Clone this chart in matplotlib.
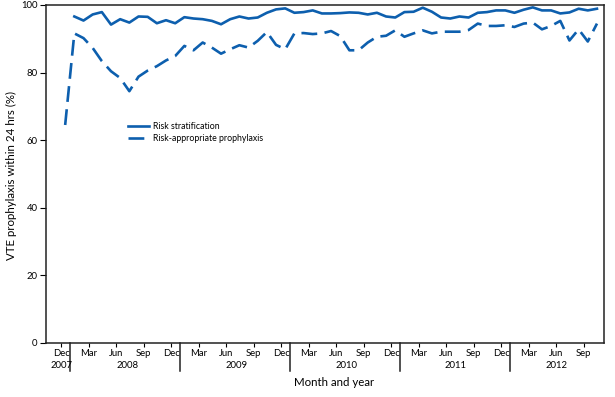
import matplotlib
matplotlib.use("Agg")
import matplotlib.pyplot as plt
from matplotlib.lines import Line2D

# Months from Dec 2007 (index 0) to Oct 2012 (index 58)
risk_strat = [None, 96.6, 95.4, 97.2, 97.9, 94.2, 95.8, 94.8, 96.6, 96.5,
              94.6, 95.5, 94.6, 96.4, 96.0, 95.8, 95.3, 94.3, 95.8, 96.6,
              96.0, 96.3, 97.7, 98.7, 99.0, 97.7, 97.9, 98.4, 97.5, 97.5,
              97.6, 97.8, 97.7, 97.2, 97.7, 96.6, 96.3, 97.9, 98.0, 99.2,
              98.0, 96.3, 96.0, 96.6, 96.3, 97.7, 97.9, 98.4, 98.4, 97.7,
              98.6, 99.3, 98.4, 98.4, 97.5, 97.8, 98.9, 98.4, 98.9]
risk_proph = [64.5, 91.6, 90.2, 87.3, 83.4, 80.4, 78.4, 74.5, 78.8, 80.6,
              81.9, 83.6, 84.9, 87.9, 86.6, 88.9, 87.4, 85.6, 86.9, 88.1,
              87.4, 89.4, 92.0, 88.2, 86.9, 91.6, 91.7, 91.4, 91.6, 92.3,
              90.8, 86.6, 86.6, 88.9, 90.6, 90.9, 92.5, 90.6, 91.6, 92.5,
              91.6, 92.1, 92.1, 92.1, 92.6, 94.5, 93.8, 93.8, 94.0, 93.5,
              94.5, 94.8, 92.8, 93.8, 95.3, 89.5, 92.8, 89.2, 94.5]
month_ticks = [0, 3, 6, 9, 12, 15, 18, 21, 24, 27, 30, 33, 36, 39, 42, 45, 48, 51, 54, 57]
month_labels = ["Dec", "Mar", "Jun", "Sep", "Dec", "Mar", "Jun", "Sep", "Dec", "Mar",
                "Jun", "Sep", "Dec", "Mar", "Jun", "Sep", "Dec", "Mar", "Jun", "Sep"]
years = ["2007", "2008", "2009", "2010", "2011", "2012"]
year_pos = [0, 7.3, 19.2, 31.1, 43.0, 54.0]
year_breaks = [1, 13, 25, 37, 49]

color = "#0d5fae"
FONT = "Lato"

fig = plt.figure(figsize=(6.15, 3.97), dpi=100)
W, H = 615, 397
ax = fig.add_axes([46 / W, (H - 343) / H, (604.3 - 46) / W, (343 - 5) / H])

off = 0.45
xs1 = [i + off for i, v in enumerate(risk_strat) if v is not None]
ys1 = [v for v in risk_strat if v is not None]
xs2 = [i + off for i in range(len(risk_proph))]

ax.plot(xs1, ys1, color=color, lw=1.9, solid_joinstyle="round")
l2, = ax.plot(xs2, risk_proph, color=color, lw=1.9)
l2.set_dashes((6.0, 2.8))

ax.set_xlim(-1.64, 59.25)
ax.set_ylim(0, 100)
ax.set_yticks([0, 20, 40, 60, 80, 100])
ax.set_yticklabels(["0", "20", "40", "60", "80", "100"], fontfamily=FONT, fontsize=6.8)
ax.set_xticks(month_ticks)
ax.set_xticklabels(month_labels, fontfamily=FONT, fontsize=6.8)
ax.tick_params(axis="x", length=3, width=0.8, pad=1.2, direction="out")
ax.tick_params(axis="y", length=4, width=0.8, pad=2, direction="out")
for s in ax.spines.values():
    s.set_linewidth(1.1)
    s.set_color("#222222")

# year separators and labels
trans = ax.get_xaxis_transform()
for b in year_breaks:
    ax.add_line(Line2D([b, b], [0, -28 / 338], transform=trans, color="#222222",
                       lw=1.1, clip_on=False))
for y, p in zip(years, year_pos):
    ax.text(p, -23 / 338, y, transform=trans, ha="center", va="center",
            fontfamily=FONT, fontsize=6.8)

fig.text(334 / W, 1 - 383 / H, "Month and year", ha="center", va="center",
         fontfamily=FONT, fontsize=8.3)
fig.text(11 / W, 1 - 175 / H, "VTE prophylaxis within 24 hrs (%)", ha="center",
         va="center", rotation=90, fontfamily=FONT, fontsize=8.3)

h1 = Line2D([], [], color=color, lw=1.9)
h2 = Line2D([], [], color=color, lw=1.9)
h2.set_dashes((6.0, 2.8))
leg = ax.legend([h1, h2], ["Risk stratification", "Risk-appropriate prophylaxis"],
                loc="upper left", bbox_to_anchor=(128 / W, 1 - 122 / H),
                bbox_transform=fig.transFigure, frameon=False,
                prop={"family": FONT, "size": 6.3}, handlelength=2.4,
                handletextpad=0.5, labelspacing=0.3, borderpad=0, borderaxespad=0)

fig.savefig("out.png", dpi=100)
